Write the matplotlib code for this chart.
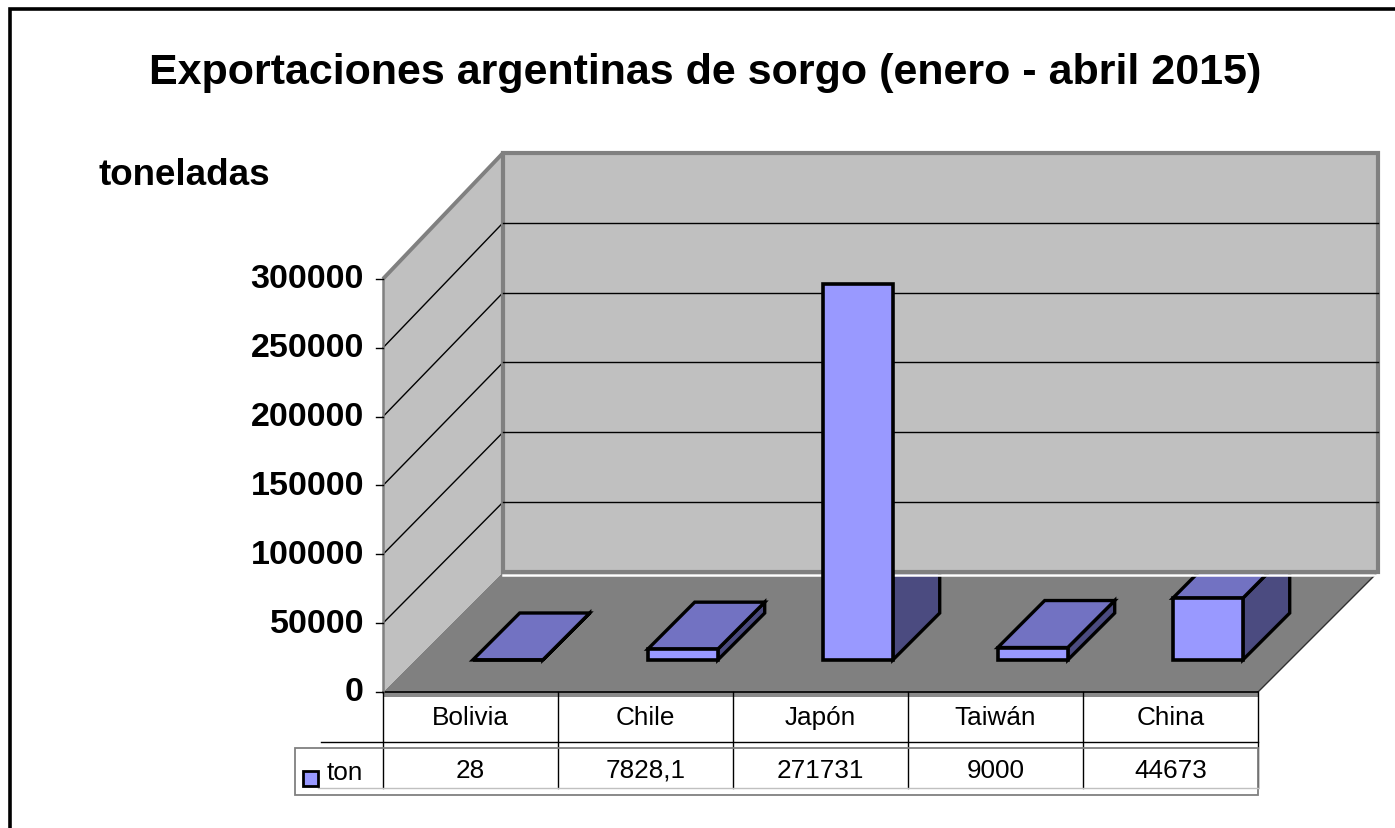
import matplotlib
matplotlib.use("Agg")
import matplotlib.pyplot as plt
from matplotlib.patches import Polygon, Rectangle

# data
paises = ["Bolivia", "Chile", "Japón", "Taiwán", "China"]
toneladas = [28, 7828.1, 271731, 9000, 44673]
serie = "ton"
ticks = [0, 50000, 100000, 150000, 200000, 250000, 300000]
titulo = "Exportaciones argentinas de sorgo (enero - abril 2015)"
eje_y = "toneladas"

# colours
FRONT = "#9999FF"
TOP = "#7272C2"
SIDE = "#4B4B80"
WALL = "#C0C0C0"
FLOOR = "#808080"
EDGE = "#808080"

# geometry of the oblique view (pixels of the 1395x829 canvas)
W, H = 1395, 829
PX0, PXW = 383, 175.0      # left of front plane, pixels per category
PY0, S0 = 693, 1.377e-3    # value 0 on front plane, pixels per unit
DEPTH_PX = 120.0
K = 0.0143                 # slight growth of the value scale towards the back
VMAX = ticks[-1]
DXC = DEPTH_PX / PXW
DYV = DEPTH_PX / S0
BAR_OFF, BAR_W = 0.33, 0.40
D_FRONT, D_BACK = 0.267, 0.658

FONT = ["Liberation Sans", "DejaVu Sans"]
plt.rcParams["font.family"] = FONT


def proj(c, d, v):
    return (c + DXC * d, v * (1 + K * d) + DYV * d)


def vy(px):
    # pixel row -> value units on the front plane
    return (PY0 - px) / S0


def cx(px):
    return (px - PX0) / PXW


fig = plt.figure(figsize=(W / 100, H / 100), dpi=100)
ax = fig.add_axes([0, 0, 1, 1])
ax.set_xlim(cx(0), cx(W))
ax.set_ylim(vy(H), vy(0))
ax.axis("off")

n = len(paises)

# floor
floor = [proj(0, 0, 0), proj(n, 0, 0), proj(n, 1, 0), proj(0, 1, 0)]
ax.add_patch(Polygon(floor, closed=True, facecolor=FLOOR, edgecolor="none", zorder=1))
ax.plot(*zip(proj(n, 0, 0), proj(n, 1, 0)), color="#303030", lw=1, zorder=1.5)
ax.add_patch(Rectangle((0, vy(698)), n, vy(693) - vy(698), facecolor="#8a8a8a",
                       edgecolor="none", zorder=1.5))
ax.plot([0, n], [0, 0], color="black", lw=1.2, zorder=1.6)

# side wall
side = [proj(0, 0, 0), proj(0, 1, 0), proj(0, 1, VMAX), proj(0, 0, VMAX)]
ax.add_patch(Polygon(side, closed=True, facecolor=WALL, edgecolor="none", zorder=1))
for v in ticks[1:-1]:
    ax.plot(*zip(proj(0, 0, v), proj(0, 1, v)), color="black", lw=1, zorder=2)
ax.plot(*zip(proj(0, 0, VMAX), proj(0, 1, VMAX)), color=EDGE, lw=2.8, zorder=2,
        solid_capstyle="butt")
ax.plot([0, 0], [0, VMAX], color=EDGE, lw=1.8, zorder=2)

# axis ticks and labels
for v in ticks:
    ax.plot([cx(376), 0], [v, v], color="black", lw=1, zorder=2)
    ax.text(cx(364), v, f"{v}", ha="right", va="center", fontsize=24.5,
            fontweight="bold", zorder=7)

# bars: side and top faces (partly hidden by the back wall)
for i, v in enumerate(toneladas):
    c0 = i + BAR_OFF
    c1 = c0 + BAR_W
    side_face = [proj(c1, D_FRONT, 0), proj(c1, D_BACK, 0),
                 proj(c1, D_BACK, v), proj(c1, D_FRONT, v)]
    top_face = [proj(c0, D_FRONT, v), proj(c1, D_FRONT, v),
                proj(c1, D_BACK, v), proj(c0, D_BACK, v)]
    ax.add_patch(Polygon(side_face, closed=True, facecolor=SIDE, edgecolor="black",
                         lw=2.4, joinstyle="miter", zorder=3))
    ax.add_patch(Polygon(top_face, closed=True, facecolor=TOP, edgecolor="black",
                         lw=2.4, joinstyle="miter", zorder=3))

# back wall
back = [proj(0, 1, 0), proj(n, 1, 0), proj(n, 1, VMAX), proj(0, 1, VMAX)]
ax.add_patch(Polygon(back, closed=True, facecolor=WALL, edgecolor=EDGE, lw=3,
                     joinstyle="miter", zorder=4))
for v in ticks[1:-1]:
    ax.plot(*zip(proj(0, 1, v), proj(n, 1, v)), color="black", lw=1, zorder=4.5)
wy = proj(0, 1, 0)[1] - 3.2 / S0
ax.plot([proj(0, 1, 0)[0], proj(n, 1, 0)[0]], [wy, wy], color="white", lw=1.8,
        zorder=3.9)

# bars: front faces
for i, v in enumerate(toneladas):
    c0 = i + BAR_OFF
    c1 = c0 + BAR_W
    front = [proj(c0, D_FRONT, 0), proj(c1, D_FRONT, 0),
             proj(c1, D_FRONT, v), proj(c0, D_FRONT, v)]
    ax.add_patch(Polygon(front, closed=True, facecolor=FRONT, edgecolor="black",
                         lw=2.6, joinstyle="miter", zorder=6))

# data table
row1_mid, row2_mid = vy(718), vy(771)
for i in range(n + 1):
    ax.plot([i, i], [vy(693), vy(789)], color="black", lw=1, zorder=7)
ax.plot([cx(321), n], [vy(743), vy(743)], color="black", lw=1, zorder=7)
ax.add_patch(Rectangle((cx(295), vy(796)), n - cx(295), vy(749) - vy(796),
                       facecolor="none", edgecolor=EDGE, lw=1.3, zorder=7))
ax.plot([cx(318), n], [vy(789), vy(789)], color="#c0c0c0", lw=1, zorder=7)
for i, (p, v) in enumerate(zip(paises, toneladas)):
    ax.text(i + 0.5, row1_mid, p, ha="center", va="center", fontsize=18.8, zorder=8)
    ax.text(i + 0.5, row2_mid, f"{v:g}".replace(".", ","), ha="center",
            va="center", fontsize=18.8, zorder=8)
ax.add_patch(Rectangle((cx(303), vy(787)), cx(318) - cx(303), vy(772) - vy(787),
                       facecolor=FRONT, edgecolor="black", lw=2, zorder=8))
ax.text(cx(327), vy(773), serie, ha="left", va="center", fontsize=18.8, zorder=8)

# titles
fig.text(705 / W, 1 - 73 / H, titulo, ha="center", va="center", fontsize=31,
         fontweight="bold")
fig.text(98 / W, 1 - 176 / H, eje_y, ha="left", va="center", fontsize=26.5,
         fontweight="bold")

# outer frame
ax.add_patch(Rectangle((cx(10), vy(H + 20)), cx(W + 20) - cx(10), vy(10) - vy(H + 20),
                       facecolor="none", edgecolor="black", lw=2.6, clip_on=False,
                       zorder=9))

fig.savefig("out.png", dpi=100)
